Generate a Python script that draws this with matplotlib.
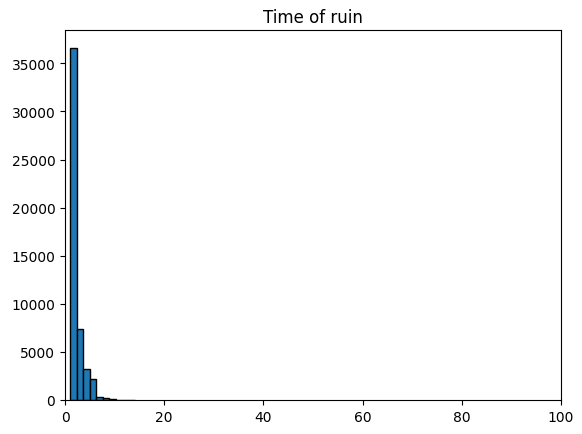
import matplotlib
matplotlib.use("Agg")
import matplotlib.pyplot as plt
import numpy as np

# Histogram of time of ruin: bin start, bin width and counts per bin
bin_start = 1.0
bin_width = 1.32
counts = [36600, 7400, 3250, 2150, 310, 170, 120, 50, 30, 15]

edges = bin_start + bin_width * np.arange(len(counts) + 1)
centers = (edges[:-1] + edges[1:]) / 2

fig = plt.figure(figsize=(5.82, 4.35), dpi=100)
ax = fig.add_axes([65 / 582, 34 / 435, 496 / 582, 369.6 / 435])
ax.hist(centers, bins=edges, weights=counts, color="#1f77b4", edgecolor="black")
ax.set_xlim(0, 100)
ax.set_title("Time of ruin")
fig.savefig("out.png", dpi=100)
